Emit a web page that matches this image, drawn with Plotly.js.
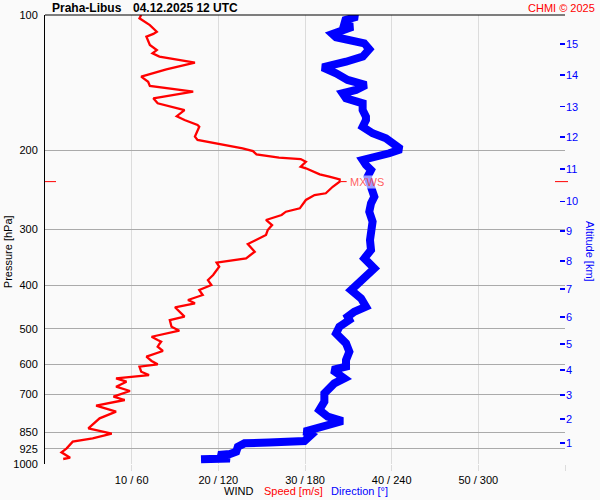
<!DOCTYPE html>
<html>
<head>
<meta charset="utf-8">
<script src="https://cdn.plot.ly/plotly-3.0.1.min.js"></script>
<style>html,body{margin:0;padding:0;background:#fafafa;}</style>
</head>
<body>
<div id="chart" style="width:600px;height:500px;"></div>
<script>
// Wind speed profile (pressure hPa, speed m/s)
const speedP = [100,101.7,105.3,109.0,110.2,111.8,116.6,119.7,121.7,123.8,127.7,132.1,137.2,140.8,143.9,148.2,153.3,157.3,162.8,168.0,171.4,175.8,177.4,186.6,189.8,193.1,198.1,200.9,204.3,207.9,209.3,212.2,217.7,219.5,226.4,229.2,232.3,235.1,241.3,249.5,251.7,258.2,269.5,274.2,278.9,286.1,291.0,293.6,301.2,309.0,323.6,336.7,348.3,356.2,363.6,379.4,389.3,399.4,409.8,420.4,431.3,438.7,447.7,469.8,477.9,494.6,504.9,520.7,529.4,534.0,540.4,547.9,560.1,576.8,589.6,599.8,607.1,622.9,633.6,644.4,655.7,672.7,687.7,708.1,720.2,741.6,764.7,791.1,832.7,856.1,876.6,891.9,922.6,941.7,968.2,974.7];
const speedV = [11.1,10.9,12.1,12.9,12.5,11.7,12.1,12.9,12.4,13.2,17.3,14.0,11.1,11.9,12.1,17.1,12.5,13.0,16.1,15.2,16.1,17.6,17.8,17.3,17.6,19.8,22.8,24.0,24.4,27.0,29.5,30.1,29.5,30.1,31.7,32.8,34.0,34.0,33.2,32.4,31.1,30.1,29.4,27.8,27.3,25.5,25.9,26.2,25.7,25.5,23.4,24.2,23.2,19.8,20.1,19.4,18.8,19.2,17.8,18.2,16.5,17.3,15.0,16.1,14.4,14.6,15.5,12.3,13.0,13.4,13.2,13.0,13.6,11.7,12.3,13.0,10.9,11.1,12.0,8.2,9.4,8.2,9.8,7.9,9.2,5.9,8.2,6.3,5.0,7.7,5.5,3.2,2.5,1.9,2.9,2.1];

// Wind direction profile (pressure hPa, direction deg)
const dirP = [100,100.9,102.6,105.3,106.2,108.4,110.2,112.1,115.6,119.2,123.8,127.1,129.2,130.8,134.9,139.5,143.2,146.9,149.4,153.3,157.3,162.8,168.5,171.4,177.4,183.4,188.2,193.1,199.1,203.2,206.8,210.3,215.8,221.4,229.2,235.1,243.2,253.9,262.7,274.2,288.6,303.9,317.1,333.7,348.3,366.6,389.3,409.8,427.6,446.4,458.0,469.8,477.9,494.6,511.7,538.5,562.3,586.6,607.1,617.4,644.4,661.2,695.9,726.3,758.0,784.6,802.1,825.9,832.7,847.4,861.8,888.9,896,899.4,915.2,939.0,950,955.0,963,972,976.5];
const dirV = [214,216,208,207,213,206,199,201.5,221,224.5,220,208.4,194.6,192.2,201.5,209.5,222.2,215.3,206,208.4,219.9,219.9,222.2,222.2,219.9,226.8,236,240.6,246.4,238.3,226.8,219.9,222.2,225.7,223.3,224.5,226.8,228,225.7,224.5,226.8,225.7,225,225.7,221.1,228,219.9,211.9,218.8,222.2,214.1,209.5,210.7,203.8,201.5,208.4,210.7,208.4,208.4,199.1,207.2,200.3,193.4,193.4,189.9,195.7,206,193.4,186.5,179.6,184.2,179.6,155,138.1,133.5,132.4,128,120,122,128,108];

// Axis labels
const pLevels = [100,200,300,400,500,600,700,850,925,1000];
const windTickVals = [10,20,30,40,50,60];
const windTickText = ['10 / 60','20 / 120','30 / 180','40 / 240','50 / 300',''];
const altKm = ['1','2','3','4','5','6','7','8','9','10','11','12','13','14','15'];
const altP = [898,794,702,617,540,471,408,353,303,260,220,187,160,136,116];

// Max wind
const mxwsP = 235;
const mxwsV = 34.0;

const traces = [
  {x: dirV, y: dirP, xaxis:'x2', yaxis:'y', mode:'lines', line:{color:'#0000ff', width:8}, hoverinfo:'skip'},
  {x: speedV, y: speedP, xaxis:'x', yaxis:'y', mode:'lines', line:{color:'#ff0000', width:2.3}, hoverinfo:'skip'},
  {x: [null], y: [null], xaxis:'x', yaxis:'y2', mode:'lines', showlegend:false, hoverinfo:'skip'}
];

const FONT = 'Liberation Sans, Arial, sans-serif';

const layout = {
  width:600, height:500,
  margin:{l:45, r:35, t:15, b:36},
  paper_bgcolor:'#fafafa', plot_bgcolor:'#fafafa',
  showlegend:false,
  font:{family:FONT, size:11, color:'#000'},
  xaxis:{range:[0,60], tickvals:windTickVals, ticktext:windTickText, showgrid:true, gridcolor:'#dcdcdc', gridwidth:1,
         zeroline:false, ticks:'outside', ticklen:6, tickcolor:'#dcdcdc', showline:false, fixedrange:true},
  xaxis2:{range:[0,360], overlaying:'x', visible:false, fixedrange:true},
  yaxis:{type:'log', range:[3,2], tickvals:pLevels, ticktext:pLevels.map(String), showgrid:true, gridcolor:'#aaaaaa', gridwidth:1,
         showline:true, linecolor:'#000', linewidth:1, ticks:'', zeroline:false, fixedrange:true, ticklabelstandoff:4},
  yaxis2:{type:'log', range:[3,2], overlaying:'y', side:'right', tickvals:altP, ticktext:altKm, ticks:'inside', ticklen:5,
          tickcolor:'#0000ff', tickwidth:1.5, tickfont:{color:'#0000ff', size:11}, showgrid:false, showline:false, zeroline:false, fixedrange:true},
  shapes:[
    {type:'line', xref:'paper', yref:'paper', x0:0, x1:1, y0:1, y1:1, line:{color:'#000', width:1}},
    {type:'line', xref:'paper', yref:'y', xsizemode:'pixel', xanchor:0, x0:0, x1:11, y0:mxwsP, y1:mxwsP, line:{color:'#ff0000', width:1}},
    {type:'line', xref:'paper', yref:'y', xsizemode:'pixel', xanchor:1, x0:-10, x1:3, y0:mxwsP, y1:mxwsP, line:{color:'#ff0000', width:1}},
    {type:'line', xref:'x', yref:'y', xsizemode:'pixel', xanchor:mxwsV, x0:1, x1:7, y0:mxwsP, y1:mxwsP, line:{color:'#ff0000', width:1}}
  ],
  annotations:[
    {text:'<b>Praha-Libus</b>', xref:'paper', yref:'paper', x:0.0096, y:1.0165, xanchor:'left', yanchor:'middle', showarrow:false, font:{size:12, color:'#000'}},
    {text:'<b>04.12.2025 12 UTC</b>', xref:'paper', yref:'paper', x:0.1654, y:1.0165, xanchor:'left', yanchor:'middle', showarrow:false, font:{size:12, color:'#000'}},
    {text:'CHMI © 2025', xref:'paper', yref:'paper', x:1.0615, y:1.0165, xanchor:'right', yanchor:'middle', showarrow:false, font:{size:11, color:'#ff0000'}},
    {text:'Pressure [hPa]', xref:'paper', yref:'paper', x:-0.071, y:0.472, textangle:-90, xanchor:'center', yanchor:'middle', showarrow:false, font:{size:11, color:'#000'}},
    {text:'Altitude [km]', xref:'paper', yref:'paper', x:1.048, y:0.472, textangle:90, xanchor:'center', yanchor:'middle', showarrow:false, font:{size:11, color:'#0000ff'}},
    {text:'WIND', xref:'paper', yref:'paper', x:0.373, y:-0.060, xanchor:'center', yanchor:'middle', showarrow:false, font:{size:11, color:'#000'}},
    {text:'Speed [m/s]', xref:'paper', yref:'paper', x:0.477, y:-0.060, xanchor:'center', yanchor:'middle', showarrow:false, font:{size:11, color:'#ff0000'}},
    {text:'Direction [°]', xref:'paper', yref:'paper', x:0.605, y:-0.060, xanchor:'center', yanchor:'middle', showarrow:false, font:{size:11, color:'#0000ff'}},
    {text:'MXWS', xref:'x', yref:'y', x:mxwsV, y:Math.log10(mxwsP), xanchor:'left', yanchor:'middle', xshift:9, showarrow:false,
     bgcolor:'rgba(255,255,255,0.6)', borderpad:0, font:{size:11, color:'rgba(255,40,40,0.75)'}}
  ]
};

Plotly.newPlot('chart', traces, layout, {displayModeBar:false, staticPlot:true});
</script>
</body>
</html>
